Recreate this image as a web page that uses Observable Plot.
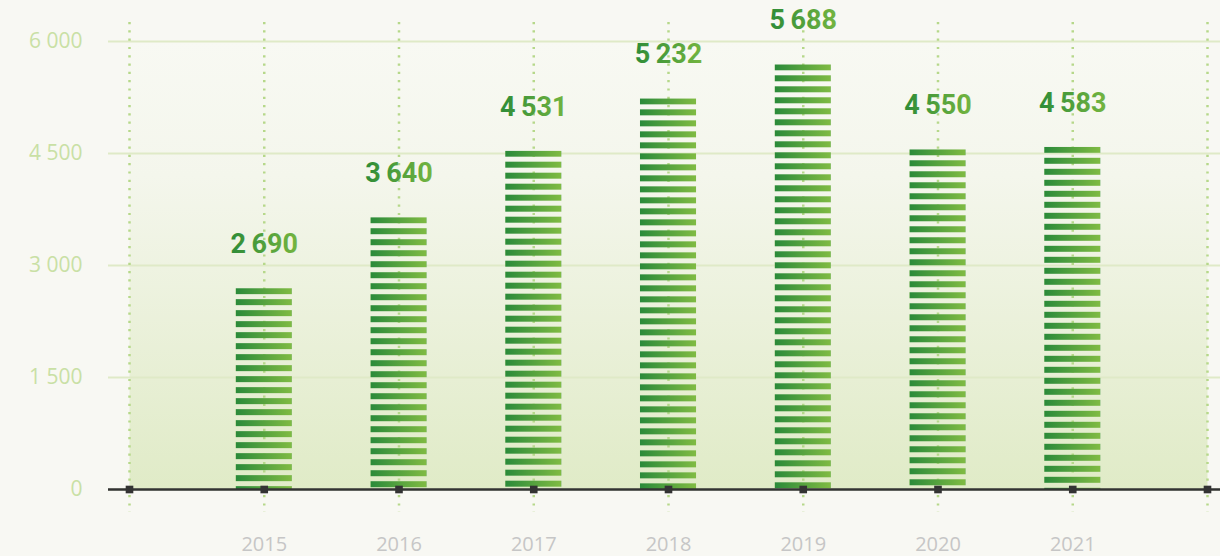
<!DOCTYPE html>
<html><head><meta charset="utf-8">
<script src="https://cdn.jsdelivr.net/npm/d3@7"></script>
<script src="https://cdn.jsdelivr.net/npm/@observablehq/plot@0.6"></script>
<style>
html,body{margin:0;padding:0;background:#f8f8f3;}
svg{display:block}
</style>
</head><body><div id="chart"></div>
<script>
const years = [2015, 2016, 2017, 2018, 2019, 2020, 2021];
const values = [2690, 3640, 4531, 5232, 5688, 4550, 4583];
const gridYears = [2014, 2015, 2016, 2017, 2018, 2019, 2020, 2021, 2022];
const yTicks = [0, 1500, 3000, 4500, 6000];

const data = years.map((year, i) => ({year, value: values[i]}));
const group = v => d3.format(",")(v);
const labelFmt = v => group(v).replace(/,/g, "\u2009");
const tickFmt = v => group(v).replace(/,/g, " ");

const chart = Plot.plot({
  width: 1220,
  height: 556,
  marginLeft: 108,
  marginRight: 0,
  marginTop: 41,
  marginBottom: 67,
  style: {background: "transparent", fontFamily: "'Open Sans', sans-serif", overflow: "visible"},
  x: {type: "band", domain: gridYears, range: [61.625, 1274.375], paddingInner: 0.584, paddingOuter: 0.292, round: false},
  y: {domain: [0, 6000]},
  marks: [
    Plot.frame({fill: "url(#bgGrad)", stroke: null, insetLeft: 21, insetRight: 13}),
    Plot.gridY(yTicks, {stroke: "#dfeac7", strokeOpacity: 1, strokeWidth: 2}),
    Plot.ruleX(gridYears, {x: d => d, stroke: "#b6d88a", strokeWidth: 2.5, strokeDasharray: "2.2 6.1", insetTop: -19, insetBottom: -23}),
    Plot.barY(data, {x: "year", y: "value", fill: "url(#barGrad)"}),
    Plot.ruleY([0], {stroke: "#333", strokeWidth: 2.5}),
    Plot.dot(gridYears, {x: d => d, frameAnchor: "bottom", symbol: "square", r: 4.3, fill: "#333", stroke: null}),
    Plot.text(data, {x: "year", y: "value", text: d => labelFmt(d.value), dy: -44, fill: "url(#txtGrad)", fontSize: 27, fontWeight: 700, fontFamily: "Roboto"}),
    Plot.axisY(yTicks, {tickSize: 0, tickPadding: 26, tickFormat: tickFmt, color: "#c9e0a5", fontSize: 21, label: null}),
    Plot.axisX(years, {tickSize: 0, tickPadding: 47, tickFormat: d => String(d), color: "#c6c6c6", fontSize: 20, label: null})
  ]
});

const ns = "http://www.w3.org/2000/svg";
const defs = document.createElementNS(ns, "defs");
defs.innerHTML = `
  <linearGradient id="barGrad" x1="0" x2="1" y1="0" y2="0">
    <stop offset="0" stop-color="#2a8a3a"/>
    <stop offset="1" stop-color="#80bb43"/>
  </linearGradient>
  <linearGradient id="txtGrad" x1="0" x2="1" y1="0" y2="0">
    <stop offset="0" stop-color="#2e8c38"/>
    <stop offset="1" stop-color="#74b540"/>
  </linearGradient>
  <linearGradient id="bgGrad" x1="0" x2="0" y1="0" y2="1">
    <stop offset="0" stop-color="#f8f9f3"/>
    <stop offset="0.3" stop-color="#f4f6ec"/>
    <stop offset="1" stop-color="#e0ebc7"/>
  </linearGradient>`;
chart.insertBefore(defs, chart.firstChild);

chart.querySelectorAll('g[aria-label="bar"] rect').forEach((r, i) => {
  const x = +r.getAttribute("x"), y = +r.getAttribute("y"), w = +r.getAttribute("width");
  const p = document.createElementNS(ns, "pattern");
  p.setAttribute("id", "stripe" + i);
  p.setAttribute("patternUnits", "userSpaceOnUse");
  p.setAttribute("x", x); p.setAttribute("y", y);
  p.setAttribute("width", w); p.setAttribute("height", 11);
  const s = document.createElementNS(ns, "rect");
  s.setAttribute("x", 0); s.setAttribute("y", 0);
  s.setAttribute("width", w); s.setAttribute("height", 6);
  s.setAttribute("fill", "url(#barGrad)");
  p.appendChild(s);
  defs.appendChild(p);
  r.setAttribute("fill", `url(#stripe${i})`);
});

document.getElementById("chart").appendChild(chart);
</script>
</body></html>
